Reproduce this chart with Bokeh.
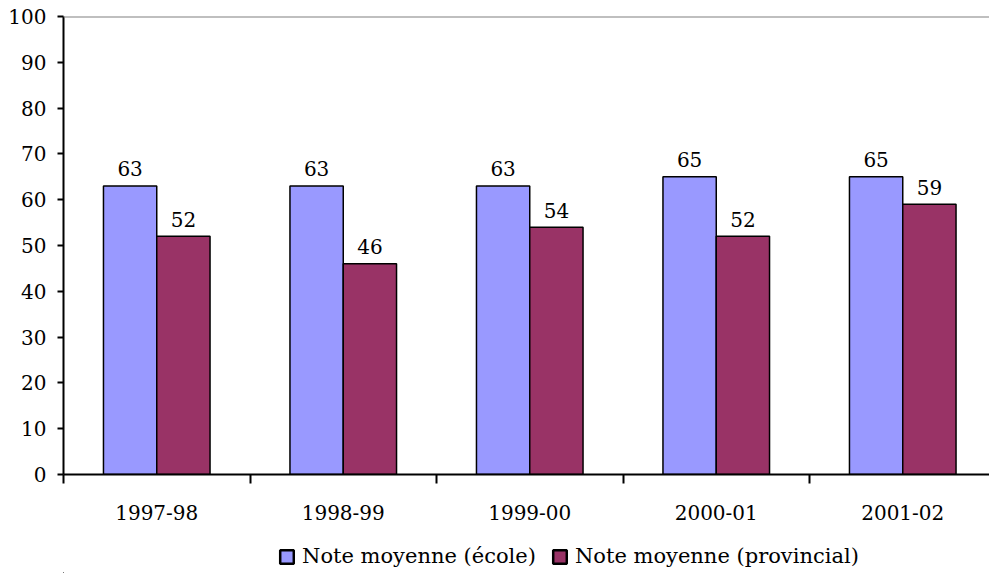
from bokeh.plotting import figure
from bokeh.layouts import column
from bokeh.models import (ColumnDataSource, Range1d, FixedTicker, Legend, LegendItem, Span)
from bokeh.core.properties import value
from bokeh.embed import file_html
from bokeh.resources import INLINE

# ---- data ----
categories = ["1997-98", "1998-99", "1999-00", "2000-01", "2001-02"]
ecole = [63, 63, 63, 65, 65]
provincial = [52, 46, 54, 52, 59]
y_ticks = [0, 10, 20, 30, 40, 50, 60, 70, 80, 90, 100]
series_names = ["Note moyenne (école)", "Note moyenne (provincial)"]
colors = ["#9999FF", "#993366"]

FONT = "DejaVu Serif"
FS = "20px"

W = 989
LEFT = 63
CAT_PX = 186.5
MAIN_H = 532
TOTAL_H = 573

centers = [i + 0.5 for i in range(len(categories))]
bw = 1 / 3.5
src = ColumnDataSource(dict(
    x1=[c - bw / 2 for c in centers],
    x2=[c + bw / 2 for c in centers],
    ecole=ecole,
    prov=provincial,
    le=[str(v) for v in ecole],
    lp=[str(v) for v in provincial],
))

p = figure(frame_width=W - LEFT, frame_height=458, output_backend="svg",
           toolbar_location=None, x_range=Range1d(0, (W - LEFT) / CAT_PX),
           y_range=Range1d(0, 100),
           min_border_left=LEFT, min_border_right=0, min_border_top=16,
           min_border_bottom=MAIN_H - 16 - 458)
p.outline_line_color = None
p.xgrid.grid_line_color = None
p.ygrid.grid_line_color = None
p.background_fill_color = "white"
p.border_fill_color = "white"

r1 = p.vbar(x="x1", top="ecole", width=bw, bottom=0, source=src,
            fill_color=colors[0], line_color="black", line_width=1.5)
r2 = p.vbar(x="x2", top="prov", width=bw, bottom=0, source=src,
            fill_color=colors[1], line_color="black", line_width=1.5)

for xcol, ycol, lcol in (("x1", "ecole", "le"), ("x2", "prov", "lp")):
    p.text(x=xcol, y=ycol, text=lcol, source=src, text_align="center",
           text_baseline="alphabetic", y_offset=-17,
           text_font=value(FONT), text_font_size=FS, text_color="black")

p.add_layout(Span(location=100, dimension="width", line_color="#808080",
                  line_width=2))

# x axis: labels at centres, ticks at boundaries
xa = p.xaxis[0]
xa.ticker = FixedTicker(ticks=centers,
                        minor_ticks=list(range(len(categories) + 1)))
xa.major_label_overrides = {c: lab for c, lab in zip(centers, categories)}
xa.major_tick_out = 0
xa.major_tick_in = 0
xa.major_tick_line_color = None
xa.minor_tick_out = 9
xa.minor_tick_in = 0
xa.minor_tick_line_color = "black"
xa.minor_tick_line_width = 2
xa.axis_line_color = "black"
xa.axis_line_width = 2
xa.major_label_standoff = 21
xa.major_label_text_font = FONT
xa.major_label_text_font_size = FS
xa.major_label_text_color = "black"

ya = p.yaxis[0]
ya.ticker = FixedTicker(ticks=y_ticks, minor_ticks=[])
ya.major_tick_out = 6
ya.major_tick_in = 0
ya.major_tick_line_color = "black"
ya.major_tick_line_width = 2
ya.axis_line_color = "black"
ya.axis_line_width = 2
ya.major_label_standoff = 11
ya.major_label_text_font = FONT
ya.major_label_text_font_size = FS
ya.major_label_text_color = "black"

# ---- legend strip below the chart ----
q = figure(width=W, height=TOTAL_H - MAIN_H, output_backend="svg",
           toolbar_location=None,
           x_range=Range1d(0, 1), y_range=Range1d(0, 1),
           min_border_left=LEFT, min_border_right=0,
           min_border_top=0, min_border_bottom=0)
q.axis.visible = False
q.xgrid.grid_line_color = None
q.ygrid.grid_line_color = None
q.outline_line_color = None
q.background_fill_color = "white"
q.border_fill_color = "white"
# legend swatches (single hidden point outside the visible range)
d1 = q.vbar(x=[-10], top=[-5], bottom=[-6], width=0.1, fill_color=colors[0],
            line_color="black", line_width=2.5)
d2 = q.vbar(x=[-10], top=[-5], bottom=[-6], width=0.1, fill_color=colors[1],
            line_color="black", line_width=2.5)

legend = Legend(items=[LegendItem(label=series_names[0], renderers=[d1]),
                       LegendItem(label=series_names[1], renderers=[d2])],
                location=(215, 5), orientation="horizontal",
                glyph_width=17, glyph_height=17, label_standoff=7,
                spacing=15, padding=0, margin=0,
                label_text_font=FONT, label_text_font_size="21px",
                label_text_color="black",
                background_fill_alpha=0, border_line_color=None)
q.add_layout(legend)

open("out.html", "w").write(file_html(column(p, q, spacing=0), INLINE))
